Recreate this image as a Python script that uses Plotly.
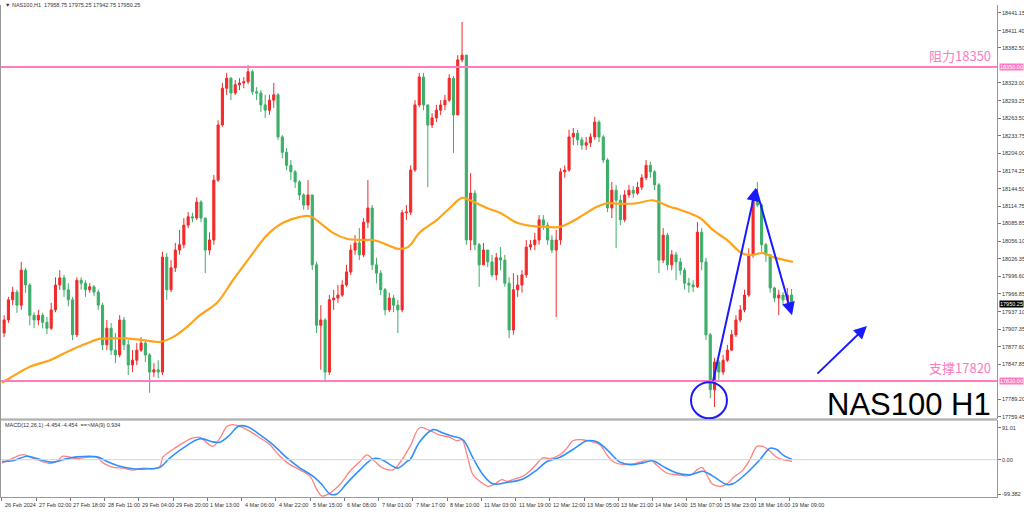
import plotly.graph_objects as go

# ---------------- data (NAS100 H1, 2-hour bars) ----------------
first_open = 17901
close = [17923, 17957, 17970, 17948, 18007, 17982, 17931, 17923, 17931, 17919,
         17909, 17940, 17982, 17994, 17974, 17957, 17898, 17990, 17985, 17974,
         17979, 17970, 17948, 17881, 17909, 17872, 17864, 17923, 17881, 17847,
         17855, 17872, 17884, 17864, 17835, 17839, 17835, 18029, 17974, 18011,
         18041, 18050, 18083, 18097, 18095, 18122, 18095, 18041, 18058, 18159,
         18252, 18314, 18331, 18306, 18320, 18323, 18325, 18342, 18308, 18306,
         18286, 18277, 18294, 18303, 18232, 18206, 18184, 18173, 18156, 18134,
         18117, 18134, 18016, 17914, 17923, 17835, 17957, 17960, 17965, 17982,
         18004, 18041, 18053, 18033, 18088, 18112, 18016, 18002, 17974, 17940,
         17960, 17948, 17940, 18104, 18105, 18176, 18286, 18333, 18286, 18252,
         18264, 18277, 18286, 18294, 18331, 18269, 18362, 18370, 18058, 18137,
         18050, 18016, 18041, 18021, 17999, 18028, 18024, 17985, 17906, 17974,
         17982, 17999, 18046, 18050, 18058, 18092, 18083, 18058, 18041, 18058,
         18173, 18176, 18232, 18238, 18227, 18218, 18222, 18232, 18257, 18232,
         18193, 18112, 18142, 18125, 18092, 18134, 18142, 18137, 18147, 18163,
         18184, 18173, 18151, 18024, 18066, 18016, 18033, 18021, 18007, 17985,
         17982, 17979, 18071, 18021, 17898, 17805, 17852, 17835, 17855, 17872,
         17898, 17923, 17940, 17965, 18033, 18125, 18117, 18050, 18033, 17977,
         17960, 17965, 17957, 17965, 17950.25]
high = [17931, 17962, 17979, 17974, 18021, 18011, 17985, 17936, 17940, 17935,
        17928, 17952, 17995, 18007, 17999, 17985, 17962, 17995, 17995, 17990,
        17985, 17982, 17974, 17952, 17923, 17918, 17901, 17931, 17928, 17889,
        17872, 17884, 17894, 17889, 17867, 17850, 17855, 18038, 18036, 18024,
        18053, 18075, 18095, 18105, 18104, 18130, 18125, 18095, 18071, 18168,
        18260, 18323, 18340, 18333, 18328, 18331, 18333, 18353, 18345, 18316,
        18311, 18303, 18303, 18323, 18306, 18235, 18213, 18193, 18176, 18159,
        18137, 18159, 18134, 18021, 17948, 17926, 17965, 17974, 17982, 17990,
        18016, 18050, 18066, 18078, 18095, 18159, 18117, 18028, 18007, 17977,
        17969, 17965, 17957, 18109, 18117, 18184, 18294, 18340, 18340, 18286,
        18272, 18286, 18294, 18303, 18338, 18335, 18370, 18426, 18370, 18171,
        18142, 18053, 18053, 18041, 18033, 18036, 18046, 18033, 17995, 18002,
        17999, 18007, 18058, 18058, 18070, 18100, 18100, 18088, 18066, 18075,
        18179, 18184, 18244, 18247, 18244, 18232, 18232, 18238, 18266, 18260,
        18235, 18196, 18156, 18151, 18134, 18142, 18151, 18149, 18156, 18169,
        18193, 18190, 18176, 18154, 18078, 18070, 18041, 18038, 18028, 18011,
        17994, 17990, 18088, 18078, 18028, 17901, 17859, 17855, 17864, 17881,
        17906, 17931, 17948, 17974, 18044, 18134, 18156, 18120, 18053, 18033,
        17979, 17974, 17970, 17977, 17975.25]
low = [17894, 17918, 17948, 17935, 17940, 17969, 17914, 17909, 17914, 17909,
       17899, 17906, 17936, 17974, 17962, 17946, 17889, 17894, 17974, 17962,
       17969, 17963, 17940, 17872, 17872, 17864, 17850, 17860, 17872, 17830,
       17835, 17847, 17869, 17852, 17800, 17827, 17825, 17830, 17957, 17970,
       18004, 18033, 18044, 18078, 18088, 18092, 18088, 18002, 18033, 18050,
       18156, 18249, 18303, 18294, 18303, 18311, 18314, 18321, 18303, 18294,
       18274, 18264, 18269, 18281, 18227, 18196, 18176, 18159, 18146, 18125,
       18109, 18109, 18007, 17901, 17839, 17822, 17830, 17940, 17952, 17962,
       17979, 17999, 18033, 18024, 18029, 18078, 18007, 17985, 17965, 17931,
       17936, 17936, 17901, 17936, 18092, 18100, 18173, 18282, 18277, 18147,
       18247, 18257, 18269, 18277, 18291, 18205, 18269, 18358, 18050, 18041,
       18041, 17979, 18016, 18012, 17995, 17990, 18007, 17979, 17892, 17898,
       17962, 17969, 17994, 18041, 18041, 18050, 18075, 18050, 18036, 17928,
       18050, 18163, 18173, 18218, 18218, 18210, 18210, 18215, 18227, 18223,
       18188, 18105, 18095, 18044, 18083, 18088, 18129, 18129, 18134, 18142,
       18159, 18163, 18142, 18002, 18019, 18007, 18007, 17990, 17999, 17974,
       17969, 17970, 17977, 18007, 17889, 17791, 17776, 17822, 17830, 17852,
       17872, 17894, 17919, 17936, 17962, 18028, 18114, 18038, 18021, 17969,
       17953, 17931, 17948, 17948, 17942.75]

# moving average (orange): hour position -> price
ma_hour = [0, 3.7, 13.1, 22.4, 30.4, 37.9, 45.8, 53.7, 58.4, 65.9, 73.8, 79.9, 86.4, 92.5,
           100.5, 107.9, 115.9, 123.8, 131.3, 139.3, 143.9, 148.6, 154.7, 161.2, 168.7,
           173.4, 179.9, 185.0, 189.7, 195.3, 203.3, 209.3, 215.0, 218.7, 226.6, 232.7,
           240.7, 246.7, 254.7, 260.7, 265.4, 271.5, 278.0, 282.7, 288.8, 296.7, 304.2,
           312.1, 316.8, 326.2, 332.2, 338.8, 344.9, 348.1, 350.9, 355.6, 360.3, 369.6]
ma_val = [17817, 17825, 17844, 17855, 17869, 17881, 17891, 17892, 17892, 17889, 17886, 17894,
          17911, 17931, 17952, 17990, 18029, 18066, 18087, 18097, 18098, 18087, 18070, 18060,
          18058, 18058, 18050, 18043, 18046, 18071, 18092, 18112, 18129, 18125, 18112, 18104,
          18087, 18082, 18080, 18080, 18087, 18100, 18114, 18120, 18119, 18120, 18125, 18114,
          18109, 18095, 18075, 18058, 18038, 18033, 18033, 18036, 18029, 18021]

# MACD (red) and its MA(9) signal (blue)
macd_hour = [0, 3.7, 8.4, 10.7, 13.1, 17.8, 22.4, 25.7, 28.5, 31.8, 35, 39.7, 44.4, 47.2,
             51.9, 56.5, 61.2, 65.9, 70.6, 73.8, 75.2, 79.9, 84.6, 89.3, 92.5, 95.8, 98.6,
             101.9, 105.1, 107.9, 111.2, 115.9, 120.6, 125.2, 129.9, 134.6, 139.3, 143.9,
             147.2, 149.5, 153.3, 157.9, 162.6, 167.3, 170.6, 173.4, 178.0, 182.7, 186.0,
             190.7, 195.3, 200.0, 204.7, 209.3, 212.6, 214.95, 217.3, 220.1, 223.4, 227.1,
             230.4, 233.6, 236.0, 239.7, 243.5, 248.1, 252.8, 256.1, 260.7, 264.0, 266.8,
             271.0, 274.8, 279.4, 282.7, 285.5, 290.2, 294.9, 298.1, 302.8, 306.1, 310.7,
             315.4, 321.5, 324.8, 327.1, 329.4, 331.8, 335.5, 338.8, 341.6, 346.3, 349.5,
             352.8, 355.6, 358.9, 362.1, 364.9, 369.2]
macd_val = [-9, 0, 13, 14, 7, -3, -11, -5, 10, 7, 3, 7, 7, -9,
            -22, -24, -30, -24, -26, -19, 7, 29, 48, 62, 64, 48, 38,
            62, 95, 100, 95, 81, 62, 43, 10, -14, -29, -47,
            -86, -104, -95, -71, -33, -5, 14, 0, -24, -29, -8,
            38, 92, 83, 70, 64, 54, 57, 14, -43, -62, -76,
            -69, -57, -62, -55, -47, -24, 5, 3, 14, 33, 54,
            57, 53, 43, 14, -5, -14, -12, -7, 0, -16, -38,
            -43, -45, -29, -22, -43, -69, -76, -69, -52, -29, 0,
            38, 38, 24, 7, 0, -4.454]
sig_hour = [0, 5.1, 11.7, 16.4, 23.8, 30.4, 35, 44.4, 49.1, 55.1, 61.2, 69.2, 73.8, 78.5,
            84.6, 92.5, 98.6, 101.9, 106.5, 110.3, 114.5, 120.6, 126.6, 133.2, 139.3, 145.3,
            149.5, 153.3, 156.5, 161.2, 167.3, 173.4, 177.6, 181.3, 185.0, 189.3, 190.7,
            195.3, 201.4, 206.1, 210.7, 215.4, 220.1, 224.8, 229.4, 236.0, 243.5, 250.0,
            254.7, 260.7, 266.8, 273.4, 278.0, 282.7, 288.8, 293.5, 299.5, 304.2, 308.9,
            315.4, 321.5, 327.6, 332.2, 338.8, 341.6, 348.1, 354.2, 358.9, 362.1, 364.9, 369.2]
sig_val = [-5, -3, 10, 3, -7, 3, 8, 8, -5, -19, -26, -26, -22, 5,
           33, 60, 51, 50, 71, 95, 95, 71, 43, 5, -24, -47,
           -71, -98, -98, -67, -29, 3, 0, -14, -24, -5, 0,
           52, 86, 76, 67, 57, 5, -43, -69, -65, -55, -29,
           -5, 7, 29, 54, 51, 29, -7, -14, -9, -3, -19,
           -38, -43, -33, -47, -71, -69, -38, 0, 33, 29, 14, 0.934]

time_labels = ["26 Feb 2024", "27 Feb 02:00", "27 Feb 18:00", "28 Feb 11:00", "29 Feb 04:00",
               "29 Feb 20:00", "1 Mar 13:00", "4 Mar 06:00", "4 Mar 22:00", "5 Mar 15:00",
               "6 Mar 08:00", "7 Mar 01:00", "7 Mar 17:00", "8 Mar 10:00", "11 Mar 03:00",
               "11 Mar 19:00", "12 Mar 12:00", "13 Mar 05:00", "13 Mar 21:00", "14 Mar 14:00",
               "15 Mar 07:00", "15 Mar 23:00", "18 Mar 16:00", "19 Mar 09:00"]
price_ticks = [18441.15, 18411.40, 18382.50, 18323.00, 18293.25, 18263.50, 18233.75, 18204.00,
               18174.25, 18144.50, 18114.75, 18085.85, 18056.10, 18026.35, 17996.60, 17966.85,
               17937.10, 17907.35, 17877.60, 17847.85, 17789.20, 17759.45]
macd_ticks = [91.01, 0.0, -99.382]
macd_tick_text = ["91.01", "0.00", "-99.382"]
resistance = 18350
support = 17820
last_price = 17950.25

# ---------------- derived ----------------
n = len(close)
bar_hour = [2 * k + 1 for k in range(n)]
opens = [first_open] + close[:-1]
label_hours = [16 * i for i in range(len(time_labels))]

PINK = "#ff7ac0"
BLUE = "#1a1aff"
SMALL = dict(family="Liberation Sans, Arial", size=5.5, color="#333333")

fig = go.Figure()
fig.add_trace(go.Candlestick(
    x=bar_hour, open=opens, high=high, low=low, close=close,
    increasing=dict(line=dict(color="#f22a2a", width=1), fillcolor="#f22a2a"),
    decreasing=dict(line=dict(color="#3cae68", width=1), fillcolor="#3cae68"),
    whiskerwidth=0, showlegend=False, xaxis="x", yaxis="y"))
fig.add_trace(go.Scatter(x=ma_hour, y=ma_val, mode="lines", line=dict(color="#ffa31a", width=2.2, shape="spline"),
                         showlegend=False, hoverinfo="skip", xaxis="x", yaxis="y"))
fig.add_trace(go.Scatter(x=macd_hour, y=macd_val, mode="lines", line=dict(color="#ff8080", width=1.3, shape="spline"),
                         showlegend=False, xaxis="x", yaxis="y2"))
fig.add_trace(go.Scatter(x=sig_hour, y=sig_val, mode="lines", line=dict(color="#2f8fff", width=1.6, shape="spline"),
                         showlegend=False, xaxis="x", yaxis="y2"))

shapes = [
    dict(type="line", xref="paper", x0=0, x1=1, yref="y", y0=resistance, y1=resistance, line=dict(color=PINK, width=2)),
    dict(type="line", xref="paper", x0=0, x1=1, yref="y", y0=support, y1=support, line=dict(color=PINK, width=2)),
    dict(type="line", xref="paper", x0=0, x1=1, yref="y2", y0=0, y1=0, line=dict(color="#d4d4d4", width=1)),
    dict(type="line", xref="paper", x0=0, x1=1, yref="y domain", y0=0, y1=0, line=dict(color="#999999", width=1)),
    dict(type="line", xref="paper", x0=0, x1=1, yref="y2 domain", y0=1, y1=1, line=dict(color="#999999", width=1)),
    dict(type="line", xref="paper", x0=0, x1=0, yref="paper", y0=0, y1=1, line=dict(color="#999999", width=2)),
    dict(type="circle", xref="x", yref="y", x0=322.0, x1=338.8, y0=17757, y1=17818, line=dict(color=BLUE, width=2)),
]

ann = []
def arrow(x0, y0, x1, y1):
    ann.append(dict(x=x1, y=y1, ax=x0, ay=y0, xref="x", yref="y", axref="x", ayref="y", text="",
                    showarrow=True, arrowhead=2, arrowsize=1.3, arrowwidth=2, arrowcolor=BLUE))
arrow(332.2, 17818, 352.3, 18146)
arrow(352.3, 18146, 369.2, 17931)
arrow(380.4, 17830, 404.2, 17913)

ann += [
    dict(xref="paper", x=0.996, yref="y", y=18369, text="阻力18350", showarrow=False, xanchor="right", yanchor="middle",
         font=dict(family="Noto Sans CJK SC", size=13, color=PINK)),
    dict(xref="paper", x=0.996, yref="y", y=17842, text="支撑17820", showarrow=False, xanchor="right", yanchor="middle",
         font=dict(family="Noto Sans CJK SC", size=13, color=PINK)),
    dict(xref="paper", x=0.996, yref="y", y=17781, text="NAS100 H1", showarrow=False, xanchor="right", yanchor="middle",
         font=dict(family="Liberation Sans, Arial", size=31, color="#000000")),
    dict(xref="paper", x=0.003, yref="paper", y=1.0, text="▼ NAS100,H1  17958.75 17975.25 17942.75 17950.25",
         showarrow=False, xanchor="left", yanchor="middle", font=SMALL),
    dict(xref="paper", x=0.003, yref="y2", y=99, text="MACD(12,26,1) -4.454 -4.454  ==>MA(9) 0.934",
         showarrow=False, xanchor="left", yanchor="middle", font=SMALL),
]
# right-hand price labels
for v in price_ticks:
    ann.append(dict(xref="paper", x=1.0, xshift=3, yref="y", y=v, text=f"{v:.2f}", showarrow=False,
                    xanchor="left", yanchor="middle", font=SMALL))
for v, t in zip(macd_ticks, macd_tick_text):
    ann.append(dict(xref="paper", x=1.0, xshift=3, yref="y2", y=v, text=t, showarrow=False,
                    xanchor="left", yanchor="middle", font=SMALL))
for val, bg in [(resistance, PINK), (support, PINK), (last_price, "#000000")]:
    ann.append(dict(xref="paper", x=1.0, xshift=2, yref="y", y=val, text=f"{val:.2f}", showarrow=False,
                    xanchor="left", yanchor="middle", bgcolor=bg, borderpad=0,
                    font=dict(family="Liberation Sans, Arial", size=5.5, color="#ffffff")))
# time labels, left-aligned after each tick
for h, t in zip(label_hours, time_labels):
    ann.append(dict(xref="x", x=h, xshift=1, yref="paper", y=0, yshift=-3, text=t, showarrow=False,
                    xanchor="left", yanchor="top", font=SMALL))

fig.update_layout(
    width=1024, height=515, margin=dict(l=0, r=27, t=5, b=18),
    paper_bgcolor="#ffffff", plot_bgcolor="#ffffff",
    shapes=shapes, annotations=ann,
    xaxis=dict(domain=[0, 1], range=[-0.93, 465], anchor="y2", showgrid=False, zeroline=False,
               tickmode="array", tickvals=label_hours, ticks="outside", ticklen=3, showticklabels=False,
               tickcolor="#777", automargin=False,
               showline=True, linecolor="#999999", rangeslider=dict(visible=False)),
    yaxis=dict(domain=[0.1585, 1], range=[17755.8, 18454.6], side="right", anchor="x", showgrid=False,
               zeroline=False, tickmode="array", tickvals=price_ticks, showticklabels=False, automargin=False,
               ticks="outside", ticklen=3, tickcolor="#777", showline=True, linecolor="#999999"),
    yaxis2=dict(domain=[0, 0.1565], range=[-106.6, 113.4], side="right", anchor="x", showgrid=False,
                zeroline=False, tickmode="array", tickvals=macd_ticks, showticklabels=False, automargin=False,
                ticks="outside", ticklen=3, tickcolor="#777", showline=True, linecolor="#999999"),
)

fig.write_html("out.html", config={"displayModeBar": False},
               post_script="document.body.style.margin='0';document.body.style.overflow='hidden';")
